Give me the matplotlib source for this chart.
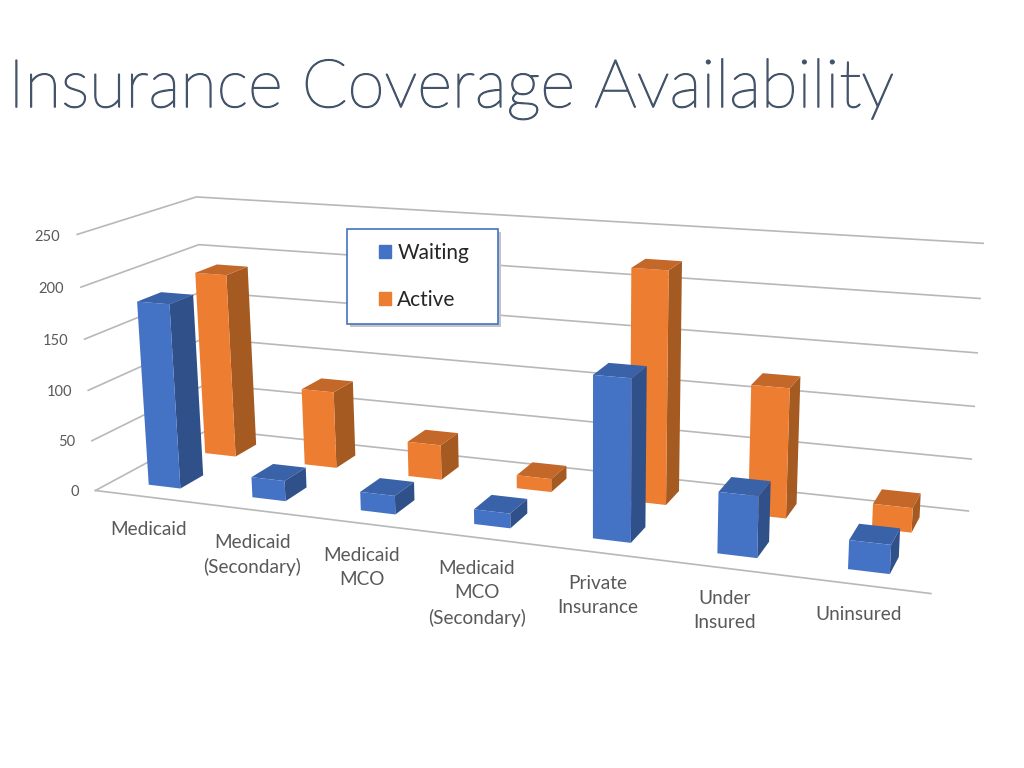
import matplotlib
matplotlib.use('Agg')
import matplotlib.pyplot as plt
import matplotlib.patheffects as pe
from matplotlib.colors import to_rgba
from matplotlib.patches import Patch, Rectangle
from mpl_toolkits.mplot3d import proj3d
import numpy as np

categories = ['Medicaid', 'Medicaid\n(Secondary)', 'Medicaid\nMCO', 'Medicaid\nMCO\n(Secondary)',
              'Private\nInsurance', 'Under\nInsured', 'Uninsured']
waiting = [182, 20, 18, 14, 150, 56, 26]
active = [188, 78, 35, 13, 223, 123, 23]
z_ticks = [0, 50, 100, 150, 200, 250]

plt.rcParams['font.family'] = ['Lato', 'DejaVu Sans']
GRID = '#b8b8b8'
TEXT = '#595959'
BAR_W = 0.31
BAR_D = 0.4


def faces(front, side, top):
    hidden = (0, 0, 0, 0)
    # order used by bar3d: -z, +z, -y, +y, -x, +x
    return [hidden, to_rgba(top), to_rgba(front), hidden, hidden, to_rgba(side)]


def label_3d(ax, x, y, z, s, shift=(0, 0), **kw):
    # flat text placed at the projected point, shift is in pixels
    x2, y2, _ = proj3d.proj_transform(x, y, z, ax.get_proj())
    ax.annotate(s, xy=(x2, y2), xycoords='data', xytext=shift, textcoords='offset pixels', **kw)


fig = plt.figure(figsize=(10.24, 7.68), dpi=100)
# 3d axes are always square, so let it run past the figure top and bottom
ax = fig.add_axes([-0.005, -0.169, 1.0, 1.333], projection='3d')
ax.set_proj_type('persp', focal_length=0.34)
ax.view_init(elev=15, azim=-69, roll=0.55)
ax.set_box_aspect((7, 1.9, 2.2), zoom=0.885)
ax.set_xlim(0, 7)
ax.set_ylim(0, 2)
ax.set_zlim(0, 250)
ax.set_axis_off()
ax.computed_zorder = False

for z in z_ticks:
    ax.plot([0, 0, 7], [0, 2, 2], [z, z, z], color=GRID, lw=1.2, zorder=1)
    label_3d(ax, -0.18, 0, z, str(z), shift=(2, -3.5), color=TEXT, fontsize=10.5, ha='right', va='center')
ax.plot([0, 7], [0, 0], [0, 0], color=GRID, lw=1.2, zorder=1)

xs = np.arange(7) + 0.5 - BAR_W / 2
ax.bar3d(xs, np.full(7, 1.3), np.zeros(7), BAR_W, BAR_D, active,
         color=faces('#ed7d31', '#a55a22', '#c4682a') * 7, shade=False, zorder=2)
ax.bar3d(xs, np.full(7, 0.3), np.zeros(7), BAR_W, BAR_D, waiting,
         color=faces('#4472c4', '#2f5088', '#3a62a8') * 7, shade=False, zorder=3)

for i, label in enumerate(categories):
    label_3d(ax, i + 0.6, -0.45, 0, label, shift=(19 - 4 * i, -7 + 1.4 * i), color=TEXT, fontsize=13.7,
             ha='center', va='top', linespacing=1.5)

fig.text(0.008, 0.884, 'Insurance Coverage Availability', color='#44546a', fontsize=48.3,
         fontweight='light', ha='left', va='center',
         path_effects=[pe.withStroke(linewidth=1.0, foreground='#44546a')])

# legend box drawn apart, its padding differs across and down
box_xy = (347 / 1024, 1 - 324 / 768)
box_w, box_h = 151 / 1024, 95 / 768
fig.add_artist(Rectangle((box_xy[0] + 0.003, box_xy[1] - 0.004), box_w, box_h, transform=fig.transFigure,
                         facecolor='#c4c4c4', edgecolor='none', zorder=5))
fig.add_artist(Rectangle(box_xy, box_w, box_h, transform=fig.transFigure,
                         facecolor='white', edgecolor='#4472c4', lw=1.2, zorder=6))
leg = fig.legend(handles=[Patch(color='#4472c4', label='Waiting'), Patch(color='#ed7d31', label='Active')],
                 loc='center', bbox_to_anchor=(0.414, 0.64), fontsize=15, labelcolor='#262626',
                 handlelength=0.6, handleheight=0.6, handletextpad=0.3, labelspacing=1.28, frameon=False)
leg.set_zorder(7)

fig.savefig('out.png', dpi=100)
